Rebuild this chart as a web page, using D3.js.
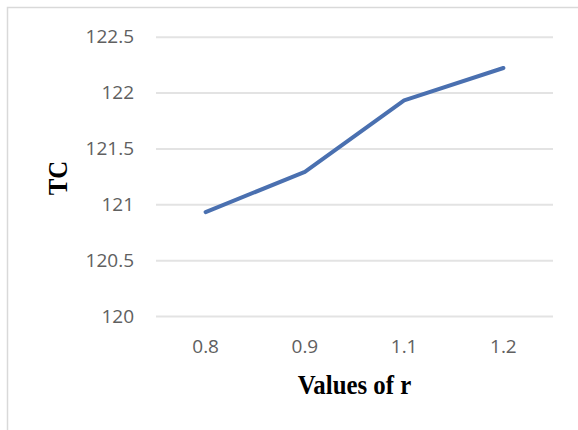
<!DOCTYPE html>
<html>
<head>
<meta charset="utf-8">
<script src="https://cdn.jsdelivr.net/npm/d3@7"></script>
<style>
  html, body { margin: 0; padding: 0; background: #fff; }
  svg { display: block; }
</style>
</head>
<body>
<svg id="chart" width="578" height="430"></svg>
<script>
// r values on the category axis and the matching TC totals
const categories = ["0.8", "0.9", "1.1", "1.2"];
const tcValues = [120.93, 121.29, 121.93, 122.22];
const yTicks = [120, 120.5, 121, 121.5, 122, 122.5];
const yTickLabels = ["120", "120.5", "121", "121.5", "122", "122.5"];

const svg = d3.select("#chart");
const W = 578, H = 430;

// outer chart border
svg.append("rect")
  .attr("x", 7.5).attr("y", 7.5)
  .attr("width", W + 20).attr("height", H + 20)
  .attr("fill", "#fff")
  .attr("stroke", "#d9d9d9")
  .attr("stroke-width", 1.5);

const plot = { left: 156, right: 553, top: 36.7, bottom: 316 };

const x = d3.scaleBand()
  .domain(categories)
  .range([plot.left, plot.right]);

const y = d3.scaleLinear()
  .domain([120, 122.5])
  .range([plot.bottom, plot.top]);

// horizontal gridlines
const yAxis = d3.axisLeft(y)
  .tickValues(yTicks)
  .tickSize(-(plot.right - plot.left))
  .tickPadding(22)
  .tickFormat((d, i) => yTickLabels[i]);

const gy = svg.append("g")
  .attr("transform", `translate(${plot.left},0)`)
  .call(yAxis);
gy.select(".domain").remove();
gy.selectAll(".tick line")
  .attr("stroke", "#e3e3e3")
  .attr("stroke-width", 2);
gy.selectAll(".tick text")
  .attr("fill", "#606060")
  .style("font-family", "'Open Sans', sans-serif")
  .style("font-size", "19px");

// category labels
const xAxis = d3.axisBottom(x).tickSize(0).tickPadding(24);
const gx = svg.append("g")
  .attr("transform", `translate(0,${plot.bottom})`)
  .call(xAxis);
gx.select(".domain").remove();
gx.selectAll(".tick text")
  .attr("fill", "#606060")
  .style("font-family", "'Open Sans', sans-serif")
  .style("font-size", "19px");

// TC line
const line = d3.line()
  .x((d, i) => x(categories[i]) + x.bandwidth() / 2)
  .y(d => y(d));

svg.append("path")
  .datum(tcValues)
  .attr("d", line)
  .attr("fill", "none")
  .attr("stroke", "#4a70b0")
  .attr("stroke-width", 4)
  .attr("stroke-linejoin", "round")
  .attr("stroke-linecap", "round");

// axis titles
svg.append("text")
  .attr("transform", `translate(${(plot.left + plot.right) / 2},394) scale(0.92,1)`)
  .attr("text-anchor", "middle")
  .style("font-family", "'Liberation Serif', serif")
  .style("font-weight", "bold")
  .style("font-size", "27px")
  .attr("fill", "#000")
  .text("Values of r");

svg.append("text")
  .attr("transform", "translate(67,178) rotate(-90) scale(0.92,1)")
  .attr("text-anchor", "middle")
  .style("font-family", "'Liberation Serif', serif")
  .style("font-weight", "bold")
  .style("font-size", "27px")
  .attr("fill", "#000")
  .text("TC");
</script>
</body>
</html>
